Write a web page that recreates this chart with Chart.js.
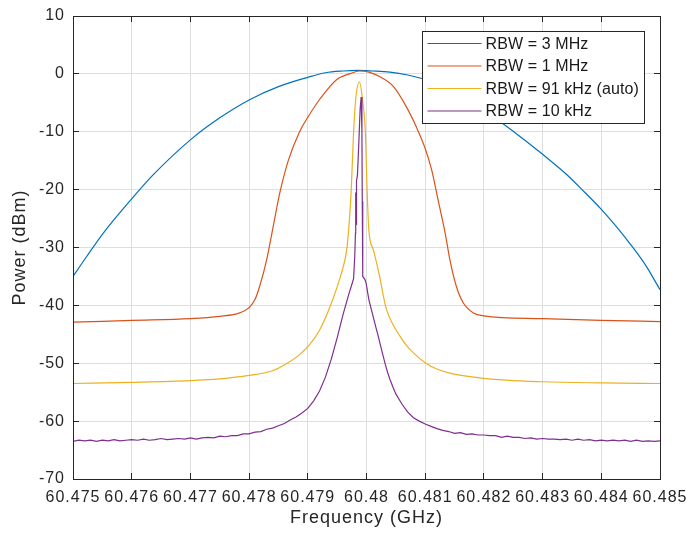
<!DOCTYPE html>
<html>
<head>
<meta charset="utf-8">
<title>Spectrum vs RBW</title>
<script src="https://cdn.jsdelivr.net/npm/chart.js@4.4.1/dist/chart.umd.min.js"></script>
<style>
  html, body { margin: 0; padding: 0; background: #fff; }
  #wrap { width: 686px; height: 537px; }
</style>
</head>
<body>
<div id="wrap"><canvas id="spectrum" width="686" height="537"></canvas></div>
<script>
// frequency in GHz, power in dBm
const rbw3MHzFreq = [60.475, 60.47523, 60.47551, 60.476, 60.47636, 60.477, 60.4775, 60.478, 60.4785, 60.479,
  60.4793, 60.4796, 60.47985, 60.4801, 60.4804, 60.4807, 60.481, 60.4813, 60.4817, 60.4822,
  60.48247, 60.483, 60.4834, 60.48372, 60.484, 60.48425, 60.4845, 60.48477, 60.485];
const rbw3MHzPower = [-35.0, -31.6, -27.6, -21.6, -17.5, -11.4, -7.6, -4.5, -2.2, -0.6,
  0.2, 0.5, 0.6, 0.5, 0.3, -0.2, -1.0, -2.4, -4.5, -7.7,
  -9.7, -13.9, -17.3, -20.5, -23.4, -26.3, -29.5, -33.3, -37.3];

const rbw1MHzFreq = [60.475, 60.476, 60.477, 60.4775, 60.47784, 60.478, 60.4781, 60.47818, 60.4783, 60.47841,
  60.47852, 60.47867, 60.47886, 60.479, 60.47921, 60.47949, 60.47972, 60.47988, 60.48004, 60.48023,
  60.48046, 60.48068, 60.48085, 60.481, 60.48111, 60.48122, 60.48134, 60.48142, 60.48153, 60.48165,
  60.48182, 60.482, 60.483, 60.484, 60.485];
const rbw1MHzPower = [-42.9, -42.6, -42.3, -41.9, -41.3, -40.4, -39.0, -36.7, -32.1, -26.4,
  -20.7, -14.9, -10.0, -7.5, -4.3, -1.0, 0.05, 0.5, 0.3, -0.5,
  -2.2, -5.7, -9.2, -12.9, -16.6, -21.8, -27.5, -32.1, -36.7, -39.6,
  -41.3, -41.8, -42.3, -42.6, -42.8];

const rbw91kHzFreq = [60.475, 60.476, 60.477, 60.4775, 60.478, 60.4784, 60.47865, 60.47885, 60.47903, 60.4792,
  60.47938, 60.4795, 60.47959, 60.47967, 60.47974, 60.47978, 60.47982, 60.47988, 60.47993, 60.47998,
  60.48001, 60.48004, 60.48012, 60.48023, 60.48028, 60.48034, 60.48045, 60.48057, 60.48068, 60.4808,
  60.481, 60.4812, 60.48142, 60.482, 60.483, 60.484, 60.485];
const rbw91kHzPower = [-53.5, -53.3, -53.0, -52.7, -52.1, -51.3, -50.0, -48.6, -46.8, -44.3,
  -40.2, -36.8, -33.8, -29.8, -20.0, -10.0, -4.0, -1.4, -4.3, -10.0,
  -20.0, -27.0, -30.5, -35.3, -38.0, -40.7, -43.3, -45.3, -46.9, -48.2,
  -49.9, -51.0, -51.7, -52.6, -53.2, -53.4, -53.5];

const rbw10kHzFreq = [
  60.4750, 60.4751, 60.4752, 60.4753, 60.4754, 60.4755, 60.4756, 60.4757, 60.4758, 60.4759,
  60.4760, 60.4761, 60.4762, 60.4763, 60.4764, 60.4765, 60.4766, 60.4767, 60.4768, 60.4769,
  60.4770, 60.4771, 60.4772, 60.4773, 60.4774, 60.4775, 60.4776, 60.4777, 60.4778, 60.4779,
  60.4780, 60.4781, 60.4782, 60.4783, 60.4784, 60.4785, 60.4786, 60.4787, 60.4788, 60.4789,
  60.4790, 60.4791, 60.4792, 60.4793, 60.4794, 60.4795, 60.4796, 60.4797, 60.47975, 60.47978,
  60.4798, 60.479812, 60.479814, 60.479816, 60.479819, 60.479822, 60.479825, 60.479829, 60.479835, 60.479846,
  60.479869, 60.479892, 60.479909, 60.479922, 60.479928, 60.479934, 60.479938, 60.479972, 60.479994, 60.48004,
  60.48008, 60.48012, 60.48016, 60.4802, 60.48024, 60.48028, 60.48032, 60.48036, 60.4804, 60.48045,
  60.4805, 60.4806, 60.4807, 60.4808, 60.4809, 60.4810, 60.4811, 60.4812, 60.4813, 60.4814,
  60.4815, 60.4816, 60.4817, 60.4818, 60.4819, 60.4820, 60.4821, 60.4822, 60.4823, 60.4824,
  60.4825, 60.4826, 60.4827, 60.4828, 60.4829, 60.4830, 60.4831, 60.4832, 60.4833, 60.4834,
  60.4835, 60.4836, 60.4837, 60.4838, 60.4839, 60.4840, 60.4841, 60.4842, 60.4843, 60.4844,
  60.4845, 60.4846, 60.4847, 60.4848, 60.4849, 60.4850];
const rbw10kHzPower = [
  -63.5, -63.3, -63.4, -63.3, -63.5, -63.3, -63.4, -63.2, -63.4, -63.3,
  -63.2, -63.3, -63.1, -63.3, -63.2, -63.0, -63.2, -63.1, -63.0, -63.1,
  -62.9, -63.1, -62.9, -62.8, -62.9, -62.6, -62.7, -62.5, -62.5, -62.2,
  -62.2, -61.9, -61.8, -61.4, -61.2, -60.8, -60.4, -59.8, -59.3, -58.6,
  -57.8, -56.5, -54.8, -52.4, -49.3, -45.6, -41.6, -38.0, -36.4, -35.4,
  -31.5, -27.5, -22.0, -27.0, -20.5, -26.0, -19.0, -21.0, -18.5, -17.5,
  -12.0, -6.0, -4.0, -10.0, -22.0, -32.0, -35.0, -35.5, -36.2, -39.0,
  -40.6, -42.2, -43.8, -45.3, -47.0, -48.6, -50.2, -51.6, -52.8, -54.1,
  -55.3, -57.0, -58.4, -59.4, -60.0, -60.5, -60.9, -61.3, -61.6, -61.8,
  -62.1, -62.0, -62.3, -62.2, -62.4, -62.4, -62.5, -62.5, -62.8, -62.6,
  -62.8, -62.8, -63.0, -62.9, -63.1, -63.0, -63.1, -63.1, -63.2, -63.1,
  -63.3, -63.1, -63.3, -63.2, -63.4, -63.3, -63.4, -63.3, -63.4, -63.3,
  -63.5, -63.3, -63.5, -63.4, -63.5, -63.4];

const xTickValues = [60.475, 60.476, 60.477, 60.478, 60.479, 60.48, 60.481, 60.482, 60.483, 60.484, 60.485];
const xTickLabels = ['60.475', '60.476', '60.477', '60.478', '60.479', '60.48', '60.481', '60.482', '60.483', '60.484', '60.485'];
const yTickValues = [-70, -60, -50, -40, -30, -20, -10, 0, 10];
const yTickLabels = ['-70', '-60', '-50', '-40', '-30', '-20', '-10', '0', '10'];

const seriesLabels = ['RBW = 3 MHz', 'RBW = 1 MHz', 'RBW = 91 kHz (auto)', 'RBW = 10 kHz'];
const seriesColors = ['#0072BD', '#D95319', '#EDB120', '#7E2F8E'];

const axisColor = '#262626';
const fontFamily = "'Liberation Sans', Arial, Helvetica, sans-serif";

function points(freq, power) {
  return freq.map((f, i) => ({ x: f, y: power[i] }));
}

// boxed axes with inward ticks, plus a legend inside the plot
const framePlugin = {
  id: 'frame',
  beforeUpdate(chart) { chart.ctx.letterSpacing = '1px'; },
  beforeDraw(chart) { chart.ctx.letterSpacing = '1px'; },
  afterDatasetsDraw(chart) {
    const { ctx, chartArea: a, scales: { x, y } } = chart;
    const snap = p => Math.round(p - 0.5) + 0.5;
    const len = 6;
    ctx.save();
    ctx.strokeStyle = axisColor;
    ctx.lineWidth = 1;
    ctx.beginPath();
    xTickValues.forEach(v => {
      const px = snap(x.getPixelForValue(v));
      ctx.moveTo(px, a.bottom); ctx.lineTo(px, a.bottom - len);
      ctx.moveTo(px, a.top); ctx.lineTo(px, a.top + len);
    });
    yTickValues.forEach(v => {
      const py = snap(y.getPixelForValue(v));
      ctx.moveTo(a.left, py); ctx.lineTo(a.left + len, py);
      ctx.moveTo(a.right, py); ctx.lineTo(a.right - len, py);
    });
    ctx.stroke();
    ctx.strokeRect(snap(a.left), snap(a.top), Math.round(a.right - a.left), Math.round(a.bottom - a.top));
    ctx.restore();
  },
  afterDraw(chart) {
    const { ctx, chartArea: a } = chart;
    const w = 222, h = 92;
    const left = a.right - 238 + 0.5, top = a.top + 15 + 0.5;
    ctx.save();
    ctx.letterSpacing = '0.1px';
    ctx.fillStyle = '#fff';
    ctx.fillRect(left, top, w, h);
    ctx.strokeStyle = axisColor;
    ctx.lineWidth = 1;
    ctx.strokeRect(left, top, w, h);
    ctx.font = '16px ' + fontFamily;
    ctx.textBaseline = 'middle';
    chart.data.datasets.forEach((ds, i) => {
      const rowY = top + 12 + i * 22.5;
      ctx.strokeStyle = ds.borderColor;
      ctx.lineWidth = ds.borderWidth;
      ctx.beginPath();
      ctx.moveTo(left + 5, rowY);
      ctx.lineTo(left + 59, rowY);
      ctx.stroke();
      ctx.fillStyle = '#1a1a1a';
      ctx.fillText(ds.label, left + 63, rowY + 1);
    });
    ctx.restore();
  }
};

const seriesData = [
  points(rbw3MHzFreq, rbw3MHzPower),
  points(rbw1MHzFreq, rbw1MHzPower),
  points(rbw91kHzFreq, rbw91kHzPower),
  points(rbw10kHzFreq, rbw10kHzPower)
];

new Chart(document.getElementById('spectrum'), {
  type: 'line',
  data: {
    datasets: seriesData.map((d, i) => ({
      label: seriesLabels[i],
      data: d,
      borderColor: seriesColors[i],
      backgroundColor: seriesColors[i],
      borderWidth: 1.2,
      pointRadius: 0,
      fill: false,
      // later traces sit on top
      order: seriesData.length - i,
      // the 10 kHz trace is noisy, keep it as straight segments
      cubicInterpolationMode: i === 3 ? 'default' : 'monotone',
      tension: 0
    }))
  },
  options: {
    responsive: false,
    animation: false,
    events: [],
    layout: { padding: { left: 0, right: 26, top: 16, bottom: 0 } },
    plugins: {
      legend: { display: false },
      tooltip: { enabled: false }
    },
    scales: {
      x: {
        type: 'linear',
        min: 60.475,
        max: 60.485,
        afterBuildTicks: s => { s.ticks = xTickValues.map(v => ({ value: v })); },
        afterFit: s => { s.height = 58; s.paddingLeft = 0; s.paddingRight = 0; },
        grid: { color: '#dedede', lineWidth: 1, drawTicks: false },
        border: { display: false },
        ticks: {
          autoSkip: false,
          maxRotation: 0,
          padding: 9,
          color: axisColor,
          font: { family: fontFamily, size: 16 },
          callback: (v, i) => xTickLabels[i]
        },
        title: {
          display: true,
          text: 'Frequency (GHz)',
          color: axisColor,
          font: { family: fontFamily, size: 18 },
          padding: { top: 0, bottom: 8 }
        }
      },
      y: {
        type: 'linear',
        min: -70,
        max: 10,
        afterBuildTicks: s => { s.ticks = yTickValues.map(v => ({ value: v })); },
        afterFit: s => { s.width = 73; s.paddingTop = 0; s.paddingBottom = 0; },
        grid: { color: '#dedede', lineWidth: 1, drawTicks: false },
        border: { display: false },
        ticks: {
          padding: 8,
          color: axisColor,
          font: { family: fontFamily, size: 16 },
          callback: (v, i) => yTickLabels[i]
        },
        title: {
          display: true,
          text: 'Power (dBm)',
          color: axisColor,
          font: { family: fontFamily, size: 18 },
          padding: { top: 9, bottom: 0 }
        }
      }
    }
  },
  plugins: [framePlugin]
});
</script>
</body>
</html>
